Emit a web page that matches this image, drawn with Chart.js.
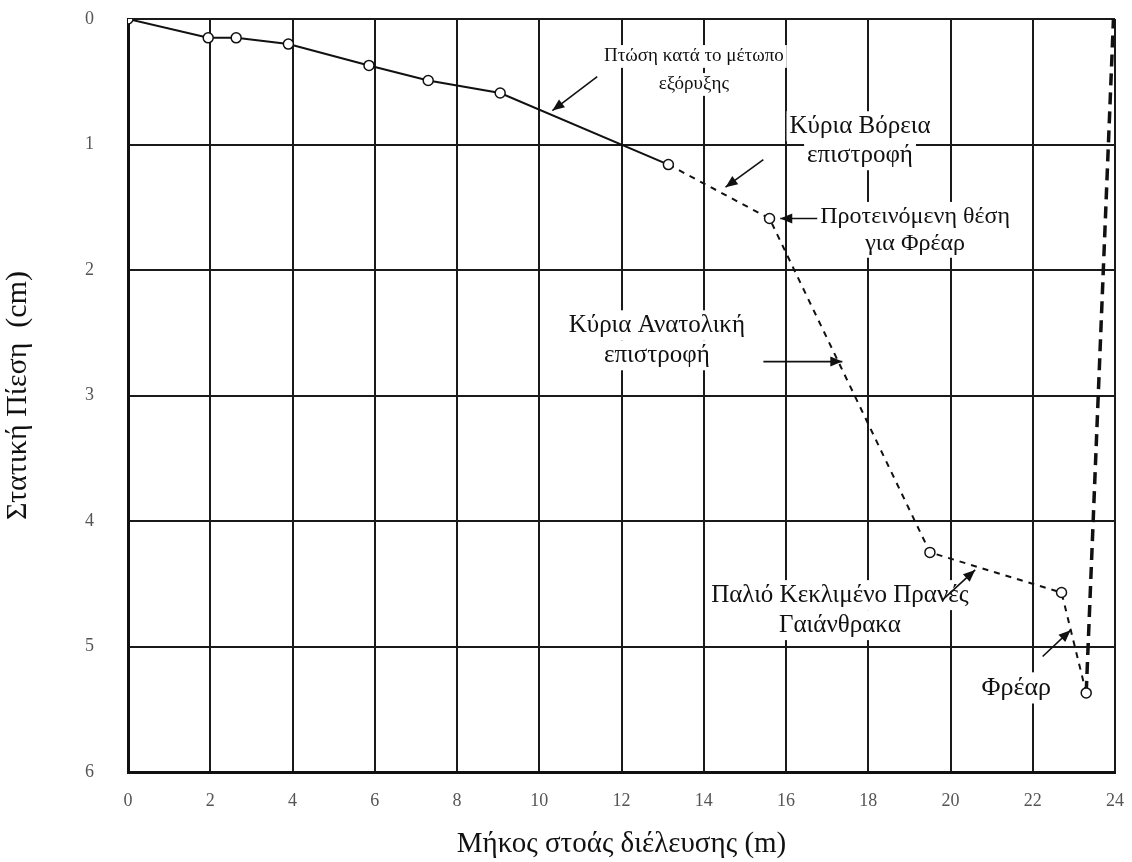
<!DOCTYPE html>
<html>
<head>
<meta charset="utf-8">
<script src="https://cdn.jsdelivr.net/npm/chart.js@4.4.1/dist/chart.umd.min.js"></script>
<style>
  html, body { margin: 0; padding: 0; background: #fff; }
  #wrap { width: 1132px; height: 862px; position: relative; }
</style>
</head>
<body>
<div id="wrap"><canvas id="c"></canvas></div>
<script>
// Profile data
const lengthM = [0, 1.95, 2.63, 3.9, 5.86, 7.3, 9.05, 13.14, 15.6, 19.5, 22.7, 23.3];
const pressureCm = [0, 0.15, 0.15, 0.2, 0.37, 0.49, 0.59, 1.16, 1.59, 4.25, 4.57, 5.37];
// Shaft line (thick dashed, near right edge)
const shaftLength = [23.3, 23.97];
const shaftPressure = [5.37, -0.06];
// Index from which the profile is dashed
const dashedFrom = 7;

const xTicks = [0, 2, 4, 6, 8, 10, 12, 14, 16, 18, 20, 22, 24];
const yTicks = [0, 1, 2, 3, 4, 5, 6];

// Callouts in data coordinates: text lines (block centre) + arrow from -> to
const callouts = [
  { lines: ['Πτώση κατά το μέτωπο', 'εξόρυξης'], x: 13.76, y: 0.41, size: 19, gap: 28, from: [11.41, 0.46], to: [10.32, 0.73] },
  { lines: ['Κύρια Βόρεια', 'επιστροφή'], x: 17.8, y: 0.97, size: 25, gap: 29, from: [15.45, 1.12], to: [14.53, 1.34] },
  { lines: ['Προτεινόμενη θέση', 'για Φρέαρ'], x: 19.14, y: 1.68, size: 24, gap: 27, from: [16.76, 1.59], to: [15.86, 1.59] },
  { lines: ['Κύρια Ανατολική', 'επιστροφή'], x: 12.86, y: 2.56, size: 25, gap: 30, from: [15.45, 2.73], to: [17.37, 2.73] },
  { lines: ['Παλιό Κεκλιμένο Πρανές', 'Γαιάνθρακα'], x: 17.31, y: 4.71, size: 25, gap: 30, from: [19.8, 4.63], to: [20.6, 4.39] },
  { lines: ['Φρέαρ'], x: 21.6, y: 5.33, size: 26, gap: 30, from: [22.24, 5.08], to: [22.92, 4.87] }
];

const FONT = '"Liberation Serif", "DejaVu Serif", serif';

const profile = lengthM.map((x, i) => ({ x: x, y: pressureCm[i] }));
const shaft = shaftLength.map((x, i) => ({ x: x, y: shaftPressure[i] }));

// Draws the text callouts and their arrows
const calloutPlugin = {
  id: 'callouts',
  afterDatasetsDraw(chart) {
    const ctx = chart.ctx;
    const xs = chart.scales.x, ys = chart.scales.y;
    ctx.save();
    ctx.fillStyle = '#111';
    ctx.strokeStyle = '#111';
    ctx.textAlign = 'center';
    ctx.textBaseline = 'middle';
    callouts.forEach(c => {
      const cx = xs.getPixelForValue(c.x);
      const cy = ys.getPixelForValue(c.y);
      ctx.font = c.size + 'px ' + FONT;
      c.lines.forEach((t, i) => {
        const ty = cy + (i - (c.lines.length - 1) / 2) * c.gap;
        const w = ctx.measureText(t).width;
        // white backing so grid lines do not cross text
        ctx.fillStyle = '#fff';
        ctx.fillRect(cx - w / 2 - 3, ty - c.size * 0.6, w + 6, c.size * 1.2);
        ctx.fillStyle = '#111';
        ctx.fillText(t, cx, ty);
      });
      const x1 = xs.getPixelForValue(c.from[0]), y1 = ys.getPixelForValue(c.from[1]);
      const x2 = xs.getPixelForValue(c.to[0]), y2 = ys.getPixelForValue(c.to[1]);
      ctx.lineWidth = 1.6;
      ctx.setLineDash([]);
      ctx.beginPath();
      ctx.moveTo(x1, y1);
      ctx.lineTo(x2, y2);
      ctx.stroke();
      const a = Math.atan2(y2 - y1, x2 - x1);
      const L = 12, W = 5;
      ctx.beginPath();
      ctx.moveTo(x2, y2);
      ctx.lineTo(x2 - L * Math.cos(a) + W * Math.sin(a), y2 - L * Math.sin(a) - W * Math.cos(a));
      ctx.lineTo(x2 - L * Math.cos(a) - W * Math.sin(a), y2 - L * Math.sin(a) + W * Math.cos(a));
      ctx.closePath();
      ctx.fill();
    });
    ctx.restore();
  }
};

new Chart(document.getElementById('c'), {
  type: 'scatter',
  data: {
    datasets: [
      {
        label: 'profile',
        data: profile,
        showLine: true,
        borderColor: '#111',
        borderWidth: 2,
        pointStyle: 'circle',
        pointRadius: 5,
        pointBorderWidth: 1.5,
        pointBackgroundColor: '#fff',
        pointBorderColor: '#111',
        segment: {
          borderDash: ctx => ctx.p0DataIndex >= dashedFrom ? [6, 6] : undefined
        },
        order: 1
      },
      {
        label: 'shaft',
        data: shaft,
        showLine: true,
        borderColor: '#111',
        borderWidth: 3.5,
        borderDash: [12, 7],
        pointRadius: 0,
        order: 2
      }
    ]
  },
  options: {
    responsive: true,
    maintainAspectRatio: false,
    animation: false,
    events: [],
    layout: { padding: { left: 0, right: 17, top: 19, bottom: 0 } },
    plugins: {
      legend: { display: false },
      tooltip: { enabled: false },
      title: { display: false }
    },
    scales: {
      x: {
        type: 'linear',
        min: 0,
        max: 24,
        afterBuildTicks: axis => { axis.ticks = xTicks.map(v => ({ value: v })); },
        afterFit: axis => {
          axis.height = 90;
          axis.paddingLeft = 0;
          axis.paddingRight = 0;
        },
        grid: { color: '#1a1a1a', lineWidth: 2, drawTicks: false },
        border: { color: '#111', width: 3 },
        ticks: { color: '#555', padding: 18, font: { family: FONT, size: 18 } },
        title: {
          display: true,
          text: 'Μήκος στοάς διέλευσης (m)',
          color: '#111',
          font: { family: FONT, size: 29 },
          padding: { top: 6, bottom: 0 }
        }
      },
      y: {
        type: 'linear',
        min: 0,
        max: 6,
        reverse: true,
        afterBuildTicks: axis => { axis.ticks = yTicks.map(v => ({ value: v })); },
        afterFit: axis => {
          axis.width = 128;
          axis.paddingTop = 0;
          axis.paddingBottom = 0;
        },
        grid: { color: '#1a1a1a', lineWidth: 2, drawTicks: false },
        border: { color: '#111', width: 3 },
        ticks: { color: '#555', padding: 34, font: { family: FONT, size: 18 } },
        title: {
          display: true,
          text: 'Στατική Πίεση  (cm)',
          color: '#111',
          font: { family: FONT, size: 30 },
          padding: { top: 0, bottom: 0 }
        }
      }
    }
  },
  plugins: [calloutPlugin]
});
</script>
</body>
</html>
